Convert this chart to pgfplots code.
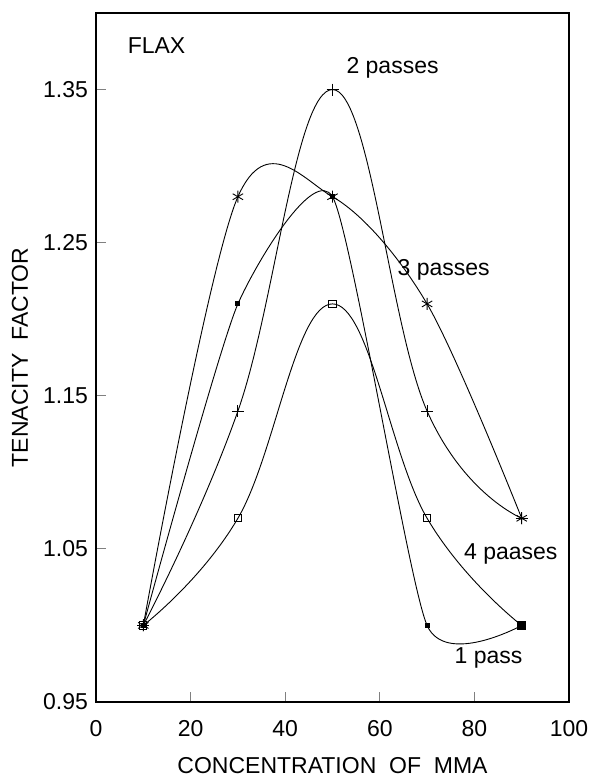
\documentclass[border=0pt]{standalone}
\usepackage{fontspec}
\setmainfont{Liberation Sans}
\usepackage{pgfplots}
\pgfplotsset{compat=1.18}
\begin{document}
\fontsize{11.5}{13}\selectfont
\begin{tikzpicture}
\begin{axis}[
  at={(0,0)}, anchor=south west,
  scale only axis, width=236.5pt, height=344.5pt,
  xmin=0, xmax=100, ymin=0.95, ymax=1.40,
  xtick={0,20,40,60,80,100},
  ytick={0.95,1.05,1.15,1.25,1.35},
  yticklabel style={/pgf/number format/fixed, /pgf/number format/fixed zerofill, /pgf/number format/precision=2},
  /pgf/number format/assume math mode=true,
  tick pos=left, tick align=inside, major tick length=5pt,
  tick style={line width=0.5pt},
  font=\fontsize{11.5}{13}\selectfont,
  tick label style={font=\fontsize{11.5}{13}\selectfont},
  xticklabel style={yshift=-5pt},
  axis line style={line width=0.7pt},
  xlabel={CONCENTRATION\ \ OF\ \ MMA},
  ylabel={TENACITY\ \ FACTOR},
  every axis x label/.style={at={(axis description cs:0.5,-0.093)}, anchor=center},
  every axis y label/.style={at={(axis description cs:-0.1607,0.5)}, anchor=center, rotate=90},
  clip=false,
]
% 2 passes
\addplot[smooth, tension=0.7, line width=0.45pt, mark=+, mark size=3pt] coordinates {(10,1.0)(30,1.14)(50,1.35)(70,1.14)(90,1.07)};
% 3 passes
\addplot[smooth, tension=0.55, line width=0.45pt, mark=asterisk, mark size=3pt] coordinates {(10,1.0)(30,1.28)(50,1.28)(70,1.21)(90,1.07)};
% 4 passes
\addplot[smooth, tension=0.7, line width=0.45pt, mark=square, mark size=1.8pt] coordinates {(10,1.0)(30,1.07)(50,1.21)(70,1.07)(90,1.0)};
% 1 pass
\addplot[smooth, tension=0.35, line width=0.45pt, mark=square*, mark size=1pt] coordinates {(10,1.0)(30,1.21)(50,1.28)(70,1.0)(90,1.0)};
\addplot[only marks, mark=square*, mark size=2pt] coordinates {(90,1.0)};
\node at (axis cs:12.8,1.379) {FLAX};
\node at (axis cs:62.7,1.364) {2 passes};
\node at (axis cs:73.5,1.232) {3 passes};
\node at (axis cs:87.7,1.047) {4 paases};
\node at (axis cs:83,0.979) {1 pass};
\end{axis}
\pgfresetboundingbox
\path[use as bounding box] (-48pt,-39.5pt) rectangle (246.7pt,351pt);
\end{tikzpicture}
\end{document}
